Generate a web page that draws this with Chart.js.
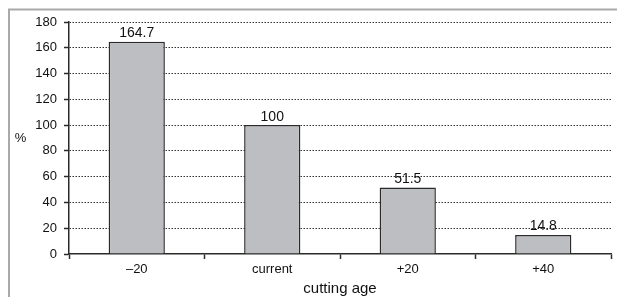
<!DOCTYPE html>
<html lang="en">
    <head>
        <meta charset="utf-8" />
        <script src="https://cdn.jsdelivr.net/npm/chart.js@4.4.1/dist/chart.umd.min.js"></script>
        <title>cutting age</title>
        <style>
            html, body { margin: 0; padding: 0; background: #fff; }
            #wrap { width: 617px; height: 297px; position: relative; }
        </style>
    </head>
    <body>
        <div id="wrap"><canvas id="grafico"></canvas></div>
        <script>
            // data
            const categorias = ["\u201320", "current", "+20", "+40"];
            const valores = [164.7, 100, 51.5, 14.8];
            const yMin = 0;
            const yMax = 180;
            const yPaso = 20;
            const tituloX = "cutting age";
            const tituloY = "%";

            const fuente = "'Liberation Sans', Arial, sans-serif";
            const oscuro = "#2b2b2b";

            // marco gris, etiquetas sobre las barras y titulos
            const extras = {
                id: "extras",
                beforeDraw(chart) {
                    const ctx = chart.ctx;
                    ctx.save();
                    ctx.strokeStyle = "#a9a9a9";
                    ctx.lineWidth = 2;
                    ctx.beginPath();
                    ctx.moveTo(9, 297);
                    ctx.lineTo(9, 9.5);
                    ctx.lineTo(617, 9.5);
                    ctx.stroke();
                    ctx.restore();
                },
                afterDatasetsDraw(chart) {
                    const ctx = chart.ctx;
                    const meta = chart.getDatasetMeta(0);
                    ctx.save();
                    ctx.fillStyle = "#111";
                    ctx.font = "14px " + fuente;
                    ctx.textAlign = "center";
                    ctx.textBaseline = "alphabetic";
                    meta.data.forEach((barra, i) => {
                        ctx.fillText(String(valores[i]), barra.x, barra.y - 4.5);
                    });
                    ctx.restore();
                },
                afterDraw(chart) {
                    const ctx = chart.ctx;
                    const area = chart.chartArea;
                    ctx.save();
                    ctx.fillStyle = "#111";
                    ctx.textAlign = "center";
                    ctx.textBaseline = "middle";
                    ctx.font = "13px " + fuente;
                    ctx.fillText(tituloY, 20.5, (area.top + area.bottom) / 2 + 0.5);
                    ctx.font = "15px " + fuente;
                    ctx.textBaseline = "alphabetic";
                    ctx.fillText(tituloX, (area.left + area.right) / 2, 293);
                    ctx.restore();
                }
            };

            new Chart(document.getElementById("grafico").getContext("2d"), {
                type: "bar",
                data: {
                    labels: categorias,
                    datasets: [{
                        data: valores,
                        backgroundColor: "#bdbec1",
                        borderColor: oscuro,
                        borderWidth: 1.5,
                        barPercentage: 0.415,
                        categoryPercentage: 1
                    }]
                },
                options: {
                    responsive: true,
                    maintainAspectRatio: false,
                    animation: false,
                    devicePixelRatio: 1,
                    layout: { padding: { top: 22, right: 6, left: 0, bottom: 0 } },
                    plugins: {
                        legend: { display: false },
                        tooltip: { enabled: false }
                    },
                    scales: {
                        x: {
                            afterFit: (s) => { s.height = 43; },
                            grid: {
                                offset: true,
                                drawOnChartArea: false,
                                drawTicks: true,
                                tickLength: 5,
                                tickColor: oscuro,
                                tickWidth: 1.5
                            },
                            border: { display: true, color: oscuro, width: 1.5 },
                            ticks: {
                                color: "#111",
                                padding: 3,
                                font: { family: fuente, size: 13 },
                                maxRotation: 0
                            }
                        },
                        y: {
                            min: yMin,
                            max: yMax,
                            afterFit: (s) => { s.width = 69; },
                            grid: {
                                color: (c) => (c.tick && c.tick.value === 0 ? "rgba(0,0,0,0)" : "#333"),
                                lineWidth: 1,
                                tickLength: 5,
                                tickColor: oscuro,
                                tickWidth: 1.5,
                                tickBorderDash: []
                            },
                            border: { display: true, color: oscuro, width: 1.5, dash: [1.5, 1.5] },
                            ticks: {
                                stepSize: yPaso,
                                color: "#111",
                                padding: 7,
                                font: { family: fuente, size: 13 }
                            }
                        }
                    }
                },
                plugins: [extras]
            });
        </script>
    </body>
</html>
